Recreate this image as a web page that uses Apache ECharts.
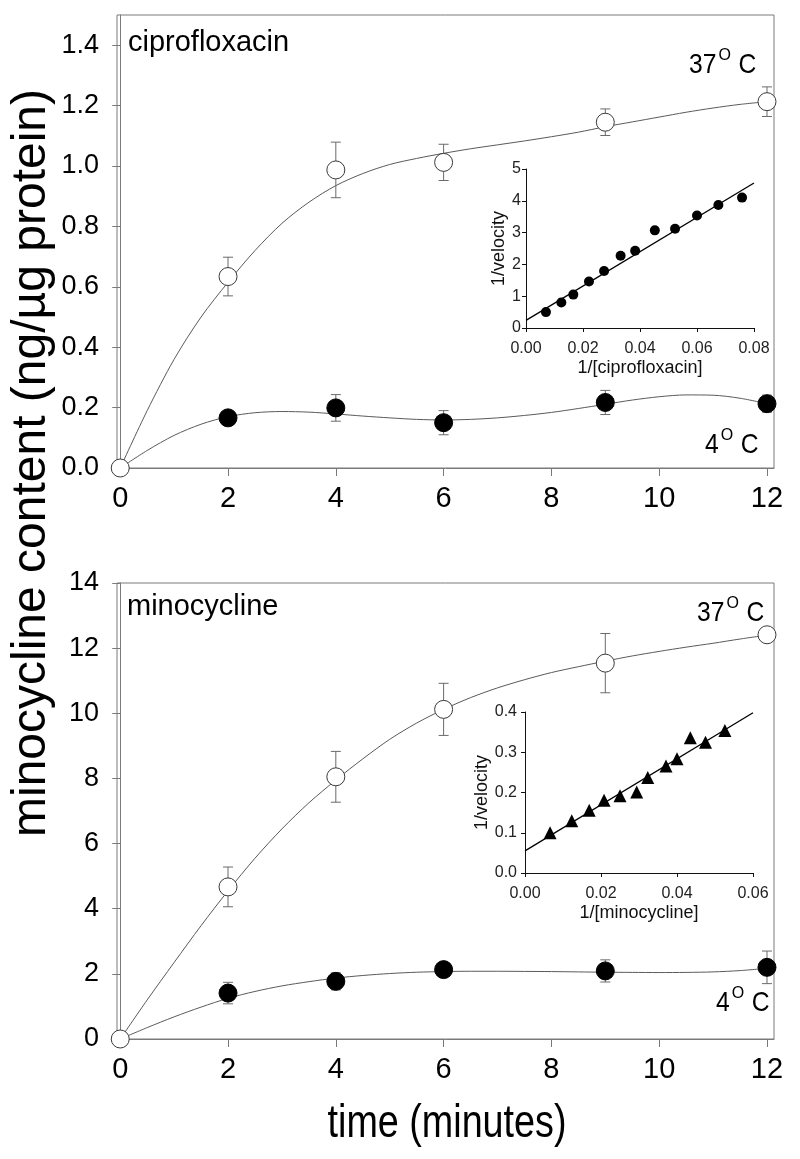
<!DOCTYPE html>
<html><head><meta charset="utf-8">
<script src="https://cdn.jsdelivr.net/npm/echarts@6/dist/echarts.min.js"></script>
<style>html,body{margin:0;padding:0;background:#fff}#c{width:800px;height:1159px}</style>
</head><body><div id="c"></div>
<script>
// ---- data ----
const timeTicks = [0, 2, 4, 6, 8, 10, 12];
const ciproYTicks = [0, 0.2, 0.4, 0.6, 0.8, 1.0, 1.2, 1.4];
const minoYTicks = [0, 2, 4, 6, 8, 10, 12, 14];
const timePoints = [0, 2, 4, 6, 9, 12];

const cipro37 = [0, 0.634, 0.987, 1.012, 1.145, 1.213];
const cipro37Err = [0, 0.064, 0.092, 0.060, 0.044, 0.049];
const cipro4 = [0, 0.166, 0.199, 0.150, 0.217, 0.213];
const cipro4Err = [0, 0.010, 0.044, 0.040, 0.040, 0.028];

const mino37 = [0, 4.67, 8.05, 10.12, 11.54, 12.41];
const mino37Err = [0, 0.61, 0.78, 0.80, 0.91, 0];
const mino4 = [0, 1.41, 1.77, 2.13, 2.09, 2.20];
const mino4Err = [0, 0.33, 0.26, 0.20, 0.34, 0.50];

// fitted curves, every half minute
const fitX = [0, 0.5, 1, 1.5, 2, 2.5, 3, 3.5, 4, 4.5, 5, 5.5, 6, 6.5, 7, 7.5, 8, 8.5, 9, 9.5, 10, 10.5, 11, 11.5, 12];
const cipro37Fit = [0, 0.19, 0.36, 0.50, 0.615, 0.72, 0.81, 0.88, 0.935, 0.975, 1.005, 1.025, 1.042, 1.057, 1.07, 1.083, 1.097, 1.112, 1.13, 1.146, 1.162, 1.178, 1.192, 1.204, 1.213];
const cipro4Fit = [0, 0.058, 0.108, 0.145, 0.17, 0.183, 0.187, 0.185, 0.179, 0.172, 0.166, 0.161, 0.159, 0.161, 0.166, 0.174, 0.184, 0.197, 0.211, 0.225, 0.236, 0.242, 0.241, 0.231, 0.213];
const mino37Fit = [0, 1.2, 2.35, 3.48, 4.55, 5.55, 6.45, 7.25, 7.95, 8.6, 9.2, 9.7, 10.12, 10.48, 10.78, 11.03, 11.25, 11.43, 11.6, 11.76, 11.9, 12.03, 12.15, 12.28, 12.4];
const mino4Fit = [0, 0.35, 0.68, 0.98, 1.25, 1.46, 1.63, 1.76, 1.87, 1.95, 2.01, 2.05, 2.07, 2.08, 2.08, 2.075, 2.07, 2.06, 2.05, 2.045, 2.04, 2.045, 2.06, 2.10, 2.17];

// Lineweaver-Burk insets
const ciproInvX = [0.0070, 0.0124, 0.0166, 0.0221, 0.0274, 0.0332, 0.0383, 0.0452, 0.0523, 0.0600, 0.0675, 0.0758];
const ciproInvY = [0.50, 0.80, 1.05, 1.46, 1.79, 2.27, 2.43, 3.07, 3.12, 3.54, 3.87, 4.10];
const ciproLineX = [0, 0.08];
const ciproLineY = [0.24, 4.56];
const minoInvX = [0.0066, 0.0123, 0.0169, 0.0208, 0.0250, 0.0294, 0.0323, 0.0371, 0.0400, 0.0435, 0.0475, 0.0526];
const minoInvY = [0.100, 0.130, 0.156, 0.181, 0.192, 0.201, 0.237, 0.266, 0.284, 0.336, 0.325, 0.354];
const minoLineX = [0, 0.06];
const minoLineY = [0.055, 0.398];

// ---- helpers ----
const REG = "'Liberation Sans',Arial,sans-serif";
const zip = (a, b) => a.map((v, i) => [v, b[i]]);
const zip3 = (a, b, c) => a.map((v, i) => [v, b[i], c[i]]);
const FRAME = '#7a7a7a';
const NARROW = 0.88;

function errSeries(xi, yi, data) {
  return {
    type: 'custom', xAxisIndex: xi, yAxisIndex: yi, z: 2, silent: true,
    data: data.filter(d => d[2] > 0),
    renderItem(params, api) {
      const x = api.value(0), y = api.value(1), e = api.value(2);
      const t = api.coord([x, y + e]), b = api.coord([x, y - e]);
      const hw = 5;
      const st = { stroke: '#6a6a6a', lineWidth: 1, fill: null };
      return { type: 'group', children: [
        { type: 'line', shape: { x1: t[0], y1: t[1], x2: b[0], y2: b[1] }, style: st },
        { type: 'line', shape: { x1: t[0] - hw, y1: t[1], x2: t[0] + hw, y2: t[1] }, style: st },
        { type: 'line', shape: { x1: b[0] - hw, y1: b[1], x2: b[0] + hw, y2: b[1] }, style: st }
      ]};
    }
  };
}
function fitSeries(xi, yi, ys) {
  return { type: 'line', xAxisIndex: xi, yAxisIndex: yi, data: zip(fitX, ys), smooth: 0.3,
    symbol: 'none', lineStyle: { color: '#5a5a5a', width: 1 }, z: 1, silent: true };
}
function markerSeries(xi, yi, ys, open, skipZero) {
  let d = zip(timePoints, ys);
  if (skipZero) d = d.slice(1);
  return { type: 'scatter', xAxisIndex: xi, yAxisIndex: yi, data: d, symbol: 'circle', symbolSize: 18,
    itemStyle: open ? { color: '#fff', borderColor: '#3a3a3a', borderWidth: 1, opacity: 1 }
                    : { color: '#000', borderColor: '#000', borderWidth: 1, opacity: 1 },
    z: open ? 4 : 3, silent: true };
}
function mainX(gi) {
  return { gridIndex: gi, type: 'value', min: -0.06, max: 12.13,
    axisLine: { show: true, lineStyle: { color: FRAME, width: 1 } },
    axisTick: { show: true, inside: false, length: 8, customValues: timeTicks, lineStyle: { color: FRAME } },
    axisLabel: { customValues: timeTicks, fontSize: 29, fontFamily: REG, color: '#000', margin: 16 },
    splitLine: { show: false } };
}
function mainY(gi, max, ticks, fmt) {
  return { gridIndex: gi, type: 'value', min: 0, max: max,
    axisLine: { show: true, lineStyle: { color: FRAME, width: 1 } },
    axisTick: { show: true, inside: false, length: 8, customValues: ticks, lineStyle: { color: FRAME } },
    axisLabel: { customValues: ticks, fontSize: 27, fontFamily: REG, color: '#000', margin: 18, formatter: fmt },
    splitLine: { show: false } };
}
function insetAxis(gi, min, max, interval, dec, name, gap, margin) {
  return { gridIndex: gi, type: 'value', min: min, max: max, interval: interval,
    name: name, nameLocation: 'middle', nameGap: gap,
    nameTextStyle: { fontSize: 18, fontFamily: REG, color: '#111' },
    axisLine: { show: true, lineStyle: { color: '#111', width: 1 } },
    axisTick: { show: true, inside: false, length: 4, lineStyle: { color: '#111' } },
    axisLabel: { fontSize: 16, fontFamily: REG, color: '#222', margin: margin, formatter: v => v.toFixed(dec) },
    splitLine: { show: false } };
}
function tempLabel(x, y, num) {
  const w = num.length * 13.7;
  return [
    { type: 'text', left: x, top: y, scaleX: NARROW, style: { text: num, fontSize: 28, fontFamily: REG, fill: '#000' } },
    { type: 'text', left: x + w + 2, top: y - 3, style: { text: 'O', fontSize: 16, fontFamily: REG, fill: '#000' } },
    { type: 'text', left: x + w + 22, top: y, scaleX: NARROW, style: { text: 'C', fontSize: 28, fontFamily: REG, fill: '#000' } }
  ];
}

const chart = echarts.init(document.getElementById('c'), null, { renderer: 'canvas' });
chart.setOption({
  backgroundColor: '#fff',
  animation: false,
  grid: [
    { left: 117, top: 15, width: 657, height: 453, show: true, borderColor: FRAME, borderWidth: 1, containLabel: false },
    { left: 117, top: 583, width: 657, height: 456, show: true, borderColor: FRAME, borderWidth: 1, containLabel: false },
    { left: 526, top: 169, width: 228, height: 159, containLabel: false },
    { left: 525, top: 712, width: 228, height: 161, containLabel: false }
  ],
  xAxis: [
    mainX(0), mainX(1),
    insetAxis(2, 0, 0.08, 0.02, 2, '1/[ciprofloxacin]', 31, 13),
    insetAxis(3, 0, 0.06, 0.02, 2, '1/[minocycline]', 31, 13)
  ],
  yAxis: [
    mainY(0, 1.5, ciproYTicks, v => v.toFixed(1)),
    mainY(1, 14, minoYTicks, v => String(v)),
    insetAxis(2, 0, 5, 1, 0, '1/velocity', 15, 5),
    insetAxis(3, 0, 0.4, 0.1, 1, '1/velocity', 27, 8)
  ],
  series: [
    // top panel
    fitSeries(0, 0, cipro37Fit), fitSeries(0, 0, cipro4Fit),
    errSeries(0, 0, zip3(timePoints, cipro37, cipro37Err)),
    errSeries(0, 0, zip3(timePoints, cipro4, cipro4Err)),
    markerSeries(0, 0, cipro4, false, true),
    markerSeries(0, 0, cipro37, true, false),
    // bottom panel
    fitSeries(1, 1, mino37Fit), fitSeries(1, 1, mino4Fit),
    errSeries(1, 1, zip3(timePoints, mino37, mino37Err)),
    errSeries(1, 1, zip3(timePoints, mino4, mino4Err)),
    markerSeries(1, 1, mino4, false, true),
    markerSeries(1, 1, mino37, true, false),
    // insets
    { type: 'line', xAxisIndex: 2, yAxisIndex: 2, data: zip(ciproLineX, ciproLineY), symbol: 'none',
      lineStyle: { color: '#000', width: 1.3 }, silent: true },
    { type: 'scatter', xAxisIndex: 2, yAxisIndex: 2, data: zip(ciproInvX, ciproInvY), symbol: 'circle', symbolSize: 10,
      itemStyle: { color: '#000', opacity: 1 }, silent: true },
    { type: 'line', xAxisIndex: 3, yAxisIndex: 3, data: zip(minoLineX, minoLineY), symbol: 'none',
      lineStyle: { color: '#000', width: 1.3 }, silent: true },
    { type: 'scatter', xAxisIndex: 3, yAxisIndex: 3, data: zip(minoInvX, minoInvY), symbol: 'triangle', symbolSize: 13,
      itemStyle: { color: '#000', opacity: 1 }, silent: true }
  ],
  graphic: [
    { type: 'text', left: 128, top: 28, style: { text: 'ciprofloxacin', fontSize: 29, fontFamily: REG, fill: '#000' } },
    { type: 'text', left: 127, top: 592, style: { text: 'minocycline', fontSize: 29, fontFamily: REG, fill: '#000' } },
    ...tempLabel(689, 51, '37'),
    ...tempLabel(705, 431, '4'),
    ...tempLabel(697, 599, '37'),
    ...tempLabel(716, 989, '4'),
    { type: 'text', x: 32, y: 463, rotation: Math.PI / 2,
      style: { text: 'minocycline content (ng/µg protein)', fontSize: 48, fontFamily: REG, fill: '#000',
        align: 'center', verticalAlign: 'middle' } },
    { type: 'text', x: 447, y: 1124, scaleX: 0.82,
      style: { text: 'time (minutes)', fontSize: 46, fontFamily: REG, fill: '#000',
        align: 'center', verticalAlign: 'middle' } }
  ]
});
</script>
</body></html>
